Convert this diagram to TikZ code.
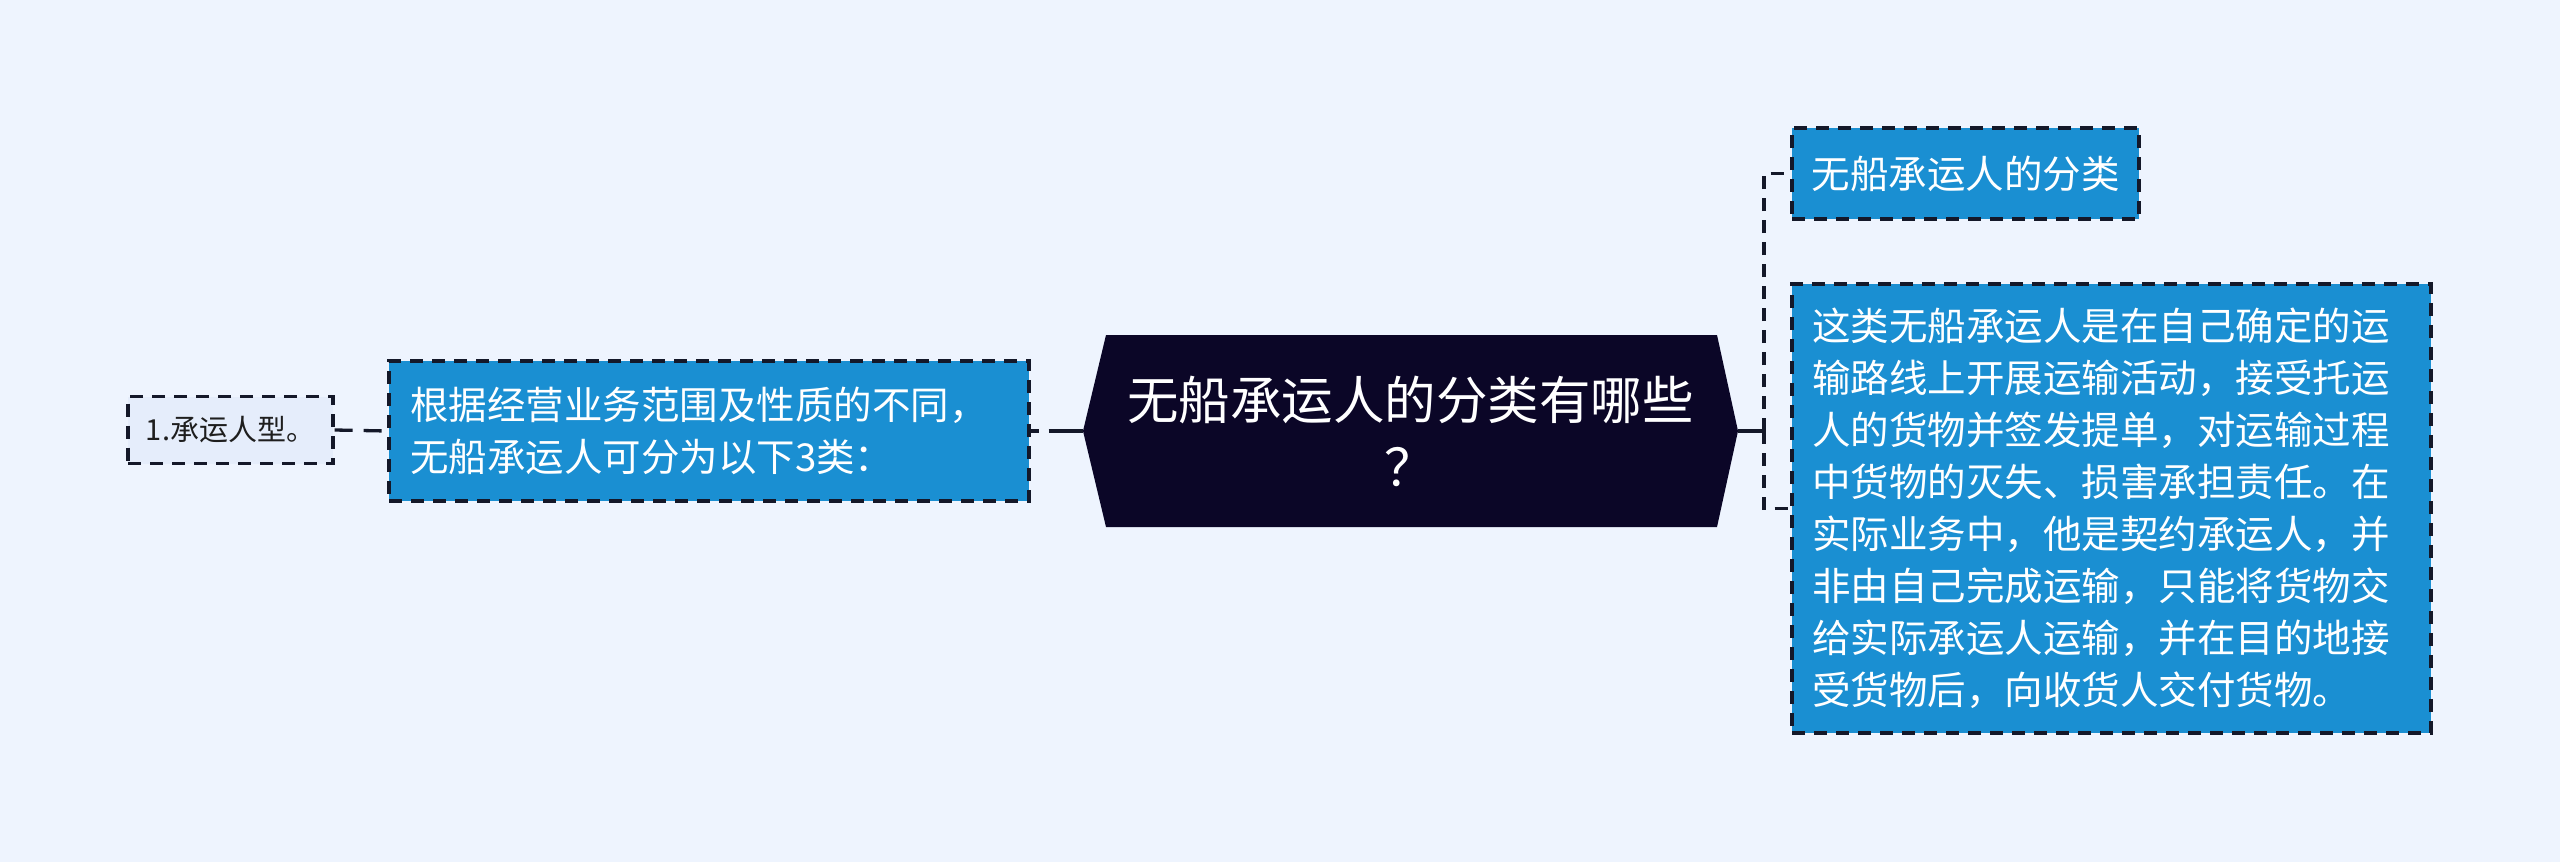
\documentclass[tikz,border=0pt]{standalone}
\usepackage{fontspec}
\setmainfont{Noto Sans CJK SC}
\usetikzlibrary{calc}
\definecolor{bgc}{HTML}{EEF4FE}
\definecolor{bluec}{HTML}{1A8FD2}
\definecolor{navyc}{HTML}{0B0627}
\definecolor{lightc}{HTML}{E5EDFB}
\definecolor{linec}{HTML}{141829}
\definecolor{textc}{HTML}{1E1E1E}
\tikzset{
  dashborder/.style={draw=linec, line width=3.3pt, dash pattern=on 13pt off 9pt},
  bluebox/.style={dashborder, fill=bluec, text=white, font=\fontsize{38.5}{52}\selectfont, inner ysep=0pt},
  smallbox/.style={dashborder, fill=lightc, text=textc, font=\fontsize{29}{36}\selectfont, inner sep=0pt},
  conn/.style={draw=linec, line width=3.3pt, dash pattern=on 18pt off 11pt},
  solidconn/.style={draw=linec, line width=3.3pt},
}
\begin{document}
\begin{tikzpicture}[x=1pt,y=-1pt]
\fill[bgc] (0,0) rectangle (2560,862);
\useasboundingbox (0,0) rectangle (2560,862);

% central hexagon
\coordinate (hexL) at (1083,431);
\coordinate (hexR) at (1738,431);
\fill[navyc] (hexL) -- (1106,335) -- (1717,335) -- (hexR) -- (1717,527) -- (1106,527) -- cycle;
\node[text=white, font=\fontsize{51.5}{67}\selectfont, align=center] (root) at (1410.5,431)
  {无船承运人的分类有哪些\\？};

% left side
\node[bluebox, minimum height=140pt, inner xsep=21pt, text width=598pt, align=left] (lb) at (709,431)
  {根据经营业务范围及性质的不同，\\无船承运人可分为以下3类：};
\node[smallbox, minimum width=205pt, minimum height=67pt] (sb) at (230.5,430)
  {1.承运人型。};

% right side
\node[bluebox, minimum width=347pt, minimum height=91pt, inner xsep=0pt] (tr) at (1965.5,173.5)
  {无船承运人的分类};
\node[bluebox, minimum height=449pt, inner xsep=20pt, text width=599pt, align=left] (br) at (2111.5,508.5)
  {这类无船承运人是在自己确定的运\\
   输路线上开展运输活动，接受托运\\
   人的货物并签发提单，对运输过程\\
   中货物的灭失、损害承担责任。在\\
   实际业务中，他是契约承运人，并\\
   非由自己完成运输，只能将货物交\\
   给实际承运人运输，并在目的地接\\
   受货物后，向收货人交付货物。};

% connectors
\draw[draw=linec, line width=3.3pt, dash pattern=on 8pt off 10pt on 40pt off 10pt] (lb.east) -- (hexL);
\draw[conn] (sb.east) -- (lb.west);
\coordinate (jr) at ($(hexR)+(26,0)$);
\draw[solidconn] (hexR) -- (jr);
\draw[dashborder] (jr) |- (tr.west);
\draw[dashborder] (jr) |- (br.west);
\end{tikzpicture}
\end{document}
